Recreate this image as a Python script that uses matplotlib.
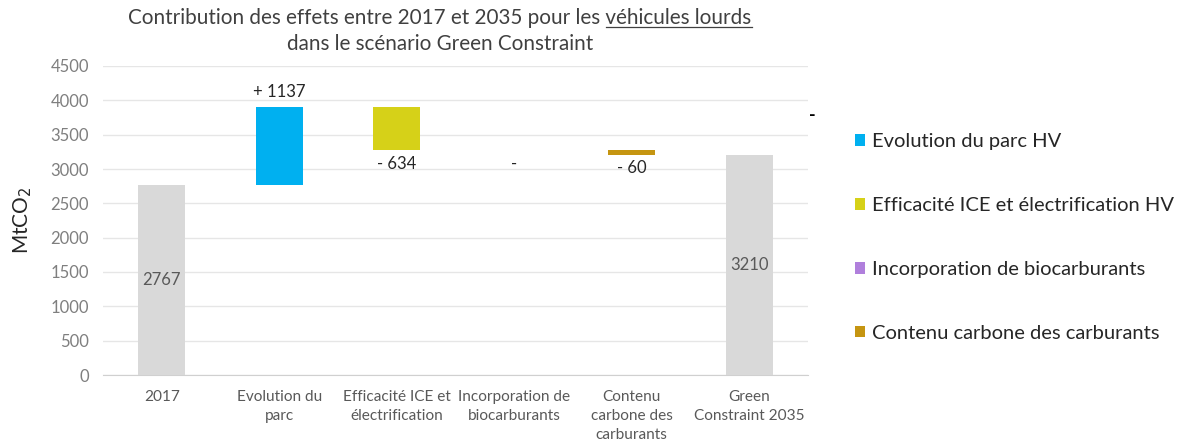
import matplotlib
matplotlib.use("Agg")
import matplotlib.pyplot as plt
import numpy as np

categories = ["2017", "Evolution du\nparc", "Efficacité ICE et\nélectrification",
              "Incorporation de\nbiocarburants", "Contenu\ncarbone des\ncarburants",
              "Green\nConstraint 2035"]
start_value = 2767
deltas = [1137, -634, 0, -60]
end_value = 3210
delta_labels = ["+ 1137", "- 634", "-", "- 60"]
legend_labels = ["Evolution du parc HV", "Efficacité ICE et électrification HV",
                 "Incorporation de biocarburants", "Contenu carbone des carburants"]
delta_colors = ["#00B0F0", "#D6D118", "#B07FDC", "#C59511"]
total_color = "#D9D9D9"
yticks = [0, 500, 1000, 1500, 2000, 2500, 3000, 3500, 4000, 4500]

plt.rcParams['font.family'] = ['Lato', 'DejaVu Sans']

fig = plt.figure(figsize=(11.82, 4.47), dpi=100)
ax = fig.add_axes([103/1182, 1-375/447, 705/1182, 309/447])

x = np.arange(len(categories))
w = 0.4
ax.bar(x[0], start_value, width=w, color=total_color, zorder=3)
ax.bar(x[-1], end_value, width=w, color=total_color, zorder=3)
ax.text(x[0], start_value/2, str(start_value), ha='center', va='center', fontsize=12, color='#595959', zorder=4)
ax.text(x[-1], end_value/2, str(end_value), ha='center', va='center', fontsize=12, color='#595959', zorder=4)

level = start_value
handles = []
for i, d in enumerate(deltas):
    xi = x[i+1]
    bottom = level if d >= 0 else level + d
    b = ax.bar(xi, abs(d), bottom=bottom, width=w, color=delta_colors[i], zorder=3,
               label=legend_labels[i])
    handles.append(b)
    if d > 0:
        ax.annotate(delta_labels[i], (xi, level + d), xytext=(0, 5), textcoords='offset points',
                    ha='center', va='bottom', fontsize=12, color='#262626')
    else:
        ax.annotate(delta_labels[i], (xi, level + d), xytext=(0, -4), textcoords='offset points',
                    ha='center', va='top', fontsize=12, color='#262626')
    level += d

ax.set_xlim(-0.5, len(categories) - 0.5)
ax.set_ylim(0, 4500)
ax.set_yticks(yticks)
ax.set_xticks(x)
ax.set_xticklabels(categories, fontsize=11.1, color='#595959', linespacing=1.45)
ax.tick_params(axis='y', labelsize=12, labelcolor='#7F7F7F', length=0, pad=10)
ax.tick_params(axis='x', length=0, pad=11)
ax.grid(axis='y', color='#E6E6E6', linewidth=1, zorder=0)
for s in ['top', 'right', 'left']:
    ax.spines[s].set_visible(False)
ax.spines['bottom'].set_color('#D0D0D0')
ax.set_ylabel("MtCO$_2$", fontsize=15, color='#262626', labelpad=12)

title1 = "Contribution des effets entre 2017 et 2035 pour les véhicules lourds"
title2 = "dans le scénario Green Constraint"
tfs = 14.9
t1 = fig.text(440/1182, 1-18/447, title1, ha='center', va='center', fontsize=tfs, color='#404040')
fig.text(440/1182, 1-44/447, title2, ha='center', va='center', fontsize=tfs, color='#404040')

# underline for "véhicules lourds"
fig.canvas.draw()
r = fig.canvas.get_renderer()
bb = t1.get_window_extent(r)
pre = fig.text(0, 0, "Contribution des effets entre 2017 et 2035 pour les ", fontsize=tfs, alpha=0)
sub = fig.text(0, 0, "véhicules lourds", fontsize=tfs, alpha=0)
pw = pre.get_window_extent(r).width
sw = sub.get_window_extent(r).width
x0 = bb.x0 + pw
yline = bb.y0 + 1
fig.add_artist(plt.Line2D([x0/1182, (x0+sw)/1182], [yline/447, yline/447], color='#404040', lw=0.9))

fig.text(812/1182, 1-115/447, "-", ha='center', va='center', fontsize=13, color='black', fontweight='bold')

leg = fig.legend(handles=handles, labels=legend_labels, loc='upper left',
                 bbox_to_anchor=(837/1182, 1-115/447), frameon=False, fontsize=14.5,
                 labelspacing=2.33, handlelength=0.5, handleheight=0.5, handletextpad=0.33,
                 labelcolor='#262626')

fig.savefig("out.png", dpi=100)
